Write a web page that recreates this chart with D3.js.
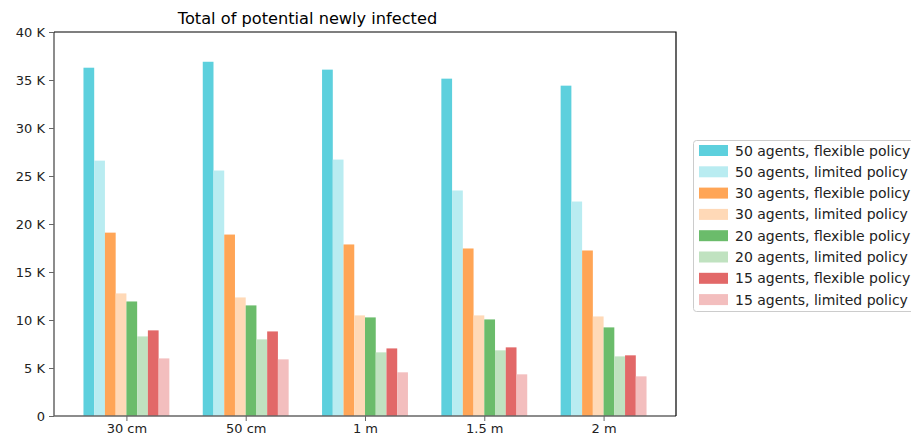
<!DOCTYPE html>
<html>
<head>
<meta charset="utf-8">
<script src="https://cdn.jsdelivr.net/npm/d3@7"></script>
<style>
body { margin: 0; background: #fff; overflow: hidden; }
text { font-family: "DejaVu Sans", sans-serif; }
</style>
</head>
<body>
<div id="chart"></div>
<script>
// distances on x axis
var distances = ["30 cm", "50 cm", "1 m", "1.5 m", "2 m"];

var seriesNames = [
  "50 agents, flexible policy", "50 agents, limited policy",
  "30 agents, flexible policy", "30 agents, limited policy",
  "20 agents, flexible policy", "20 agents, limited policy",
  "15 agents, flexible policy", "15 agents, limited policy"
];
var seriesColors = ["#5dd0dd", "#b9ecf1", "#ffa556", "#ffd9b7",
                    "#6bbc6b", "#c0e2c0", "#e26868", "#f3bebe"];

// values, one array per series
var agents50flex = [36280, 36900, 36080, 35140, 34410];
var agents50lim  = [26600, 25570, 26710, 23490, 22340];
var agents30flex = [19100, 18900, 17870, 17450, 17240];
var agents30lim  = [12770, 12350, 10480, 10480, 10370];
var agents20flex = [11930, 11520, 10270, 10060, 9230];
var agents20lim  = [8290, 7980, 6630, 6840, 6210];
var agents15flex = [8920, 8810, 7040, 7150, 6320];
var agents15lim  = [6000, 5900, 4550, 4340, 4130];

var allSeries = [agents50flex, agents50lim, agents30flex, agents30lim,
                 agents20flex, agents20lim, agents15flex, agents15lim];

var yTicks = [0, 5000, 10000, 15000, 20000, 25000, 30000, 35000, 40000];

var margin = {top: 32, right: 235, bottom: 20, left: 54},
    width = 911 - margin.left - margin.right,
    height = 436 - margin.top - margin.bottom;

var svg = d3.select("#chart").append("svg")
  .attr("width", 911).attr("height", 436);
var g = svg.append("g")
  .attr("transform", "translate(" + margin.left + "," + margin.top + ")");

var barW = 0.09;
// linear x scale in "group units", like matplotlib
var x = d3.scaleLinear().domain([-0.607, 4.607]).range([0, width]);
var y = d3.scaleLinear().domain([0, 40000]).range([height, 0]);

// bars
allSeries.forEach(function(vals, s) {
  g.append("g").selectAll("rect")
    .data(vals)
    .enter().append("rect")
    .attr("x", function(d, i) { return x(i + (s - 4) * barW); })
    .attr("width", x(barW) - x(0))
    .attr("y", function(d) { return y(d); })
    .attr("height", function(d) { return y(0) - y(d); })
    .attr("fill", seriesColors[s]);
});

// axes
var yAxis = g.append("g")
  .call(d3.axisLeft(y).tickValues(yTicks).tickSize(5).tickPadding(4)
    .tickFormat(function(d) { return d === 0 ? "0" : (d / 1000) + " K"; }));
var xAxis = g.append("g")
  .attr("transform", "translate(0," + height + ")")
  .call(d3.axisBottom(x).tickValues(d3.range(distances.length)).tickSize(5).tickPadding(3)
    .tickFormat(function(d) { return distances[d]; }));

[yAxis, xAxis].forEach(function(a) {
  a.select(".domain").attr("stroke", "#666").attr("stroke-width", 1.5);
  a.selectAll(".tick line").attr("stroke", "#666");
  a.selectAll(".tick text").attr("font-size", 13).attr("fill", "#222")
    .attr("font-family", "DejaVu Sans");
});
yAxis.select(".domain").attr("d", "M0," + height + "V0");
xAxis.select(".domain").attr("d", "M0,0H" + width);

// top and right spines
g.append("path")
  .attr("d", "M0,0H" + width + "V" + height)
  .attr("fill", "none").attr("stroke", "#000").attr("stroke-width", 1.2);

// title
svg.append("text")
  .attr("x", 307.5).attr("y", 24)
  .attr("text-anchor", "middle")
  .attr("font-size", 16.2)
  .attr("fill", "#000")
  .text("Total of potential newly infected");

// legend
var leg = svg.append("g").attr("transform", "translate(693,140)");
leg.append("rect")
  .attr("x", 0.5).attr("y", 0.5).attr("rx", 3)
  .attr("width", 240).attr("height", 171)
  .attr("fill", "#fff").attr("stroke", "#ccc");
var items = leg.selectAll("g.item").data(seriesNames).enter().append("g")
  .attr("transform", function(d, i) { return "translate(0," + (i * 21.3) + ")"; });
items.append("rect")
  .attr("x", 6).attr("y", 5).attr("width", 29).attr("height", 11)
  .attr("fill", function(d, i) { return seriesColors[i]; });
items.append("text")
  .attr("x", 42).attr("y", 15.5)
  .attr("font-size", 14).attr("fill", "#222")
  .text(function(d) { return d; });
</script>
</body>
</html>
